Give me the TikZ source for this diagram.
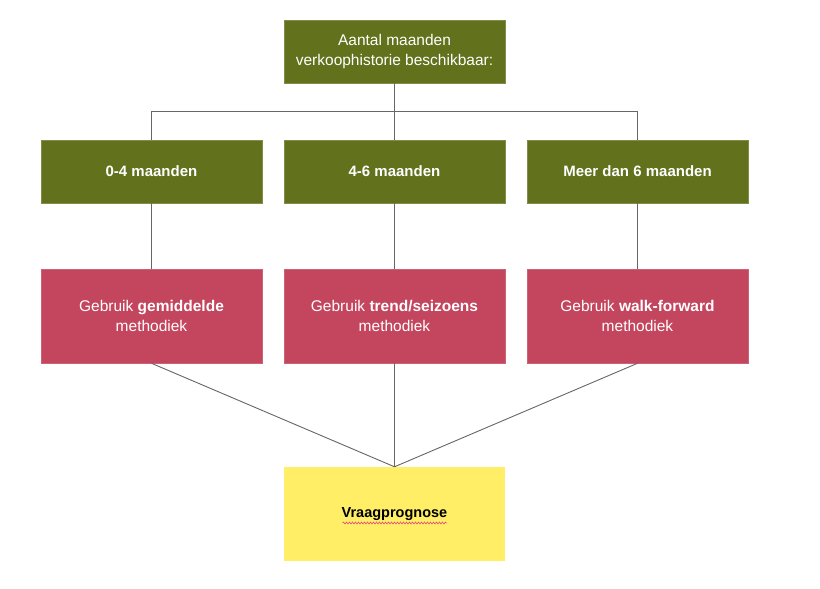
\documentclass[tikz,border=0pt]{standalone}
\usepackage{fontspec}
\setmainfont{Liberation Sans}
\usetikzlibrary{decorations.pathmorphing}
\definecolor{olive}{HTML}{61711C}
\definecolor{rose}{HTML}{C4455E}
\definecolor{lemon}{HTML}{FFEE66}
\definecolor{wire}{HTML}{666666}
\definecolor{spell}{HTML}{E0507A}
\tikzset{
  greenbox/.style={fill=olive, draw=olive!80!white, line width=0.6pt, minimum width=221pt, minimum height=63pt, inner sep=0pt, text=white, align=center, font=\fontsize{15.5}{20}\selectfont},
  greenbold/.style={greenbox, font=\fontsize{15}{20}\selectfont\bfseries},
  redbox/.style={fill=rose, draw=rose!85!white, line width=0.6pt, minimum width=221pt, minimum height=94pt, inner sep=0pt, text=white, align=center, font=\fontsize{15.5}{20}\selectfont},
  yellowbox/.style={fill=lemon, minimum width=221pt, minimum height=94pt, inner sep=0pt, text=black, align=center, font=\fontsize{14.5}{18}\selectfont\bfseries},
  wireline/.style={draw=wire, line width=0.9pt},
  squiggle/.style={draw=spell, line width=0.6pt, decorate, decoration={snake, amplitude=1pt, segment length=3pt}}
}
\begin{document}
\begin{tikzpicture}[x=1pt,y=1pt]
\useasboundingbox[fill=white] (0,0) rectangle (820,589);
\node[greenbox] (top) at (394.5,537.5) {Aantal maanden\\verkoophistorie beschikbaar:};
\node[greenbold] (a1) at (151.5,417.5) {0-4 maanden};
\node[greenbold] (a2) at (394.5,417.5) {4-6 maanden};
\node[greenbold] (a3) at (637.5,417.5) {Meer dan 6 maanden};
\node[redbox] (b1) at (151.5,273) {Gebruik \textbf{gemiddelde}\\methodiek};
\node[redbox] (b2) at (394.5,273) {Gebruik \textbf{trend/seizoens}\\methodiek};
\node[redbox] (b3) at (637.5,273) {Gebruik \textbf{walk-forward}\\methodiek};
\node[yellowbox] (v) at (394.5,75) {Vraagprognose};
\coordinate (busm) at (394.5,478);
\draw[wireline] (top.south) -- (busm);
\draw[wireline] (a1.north) -- (a1.north |- busm) -- (a3.north |- busm) -- (a3.north);
\draw[wireline] (busm) -- (a2.north);
\draw[wireline] (a1.south) -- (b1.north);
\draw[wireline] (a2.south) -- (b2.north);
\draw[wireline] (a3.south) -- (b3.north);
\draw[wireline] (b1.south) -- (v.north);
\draw[wireline] (b2.south) -- (v.north);
\draw[wireline] (b3.south) -- (v.north);
\coordinate (sq1) at ([xshift=-52pt,yshift=-9pt]v.center);
\coordinate (sq2) at ([xshift=52pt,yshift=-9pt]v.center);
\draw[squiggle] (sq1) -- (sq2);
\end{tikzpicture}
\end{document}
